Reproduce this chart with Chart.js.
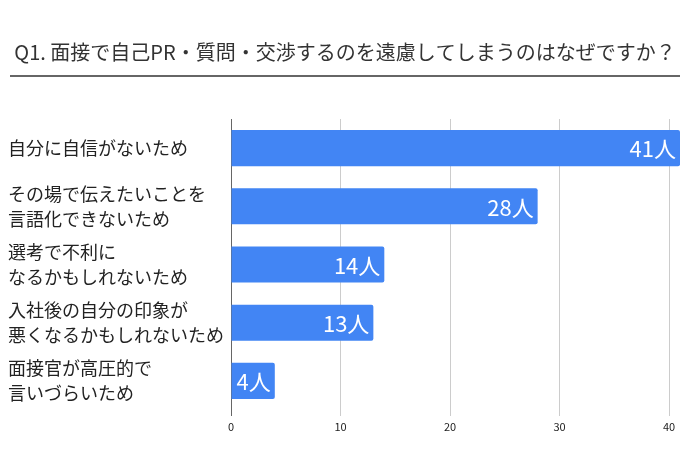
<!DOCTYPE html>
<html>
<head>
<meta charset="utf-8">
<script src="https://cdn.jsdelivr.net/npm/chart.js@4"></script>
<style>
  body { margin: 0; background: #fff; }
  #wrap { width: 690px; height: 460px; position: relative; }
</style>
</head>
<body>
<div id="wrap"><canvas id="grafico" width="690" height="460"></canvas></div>
<script>
const ctx = document.getElementById("grafico");

const TITLE = "Q1. 面接で自己PR・質問・交渉するのを遠慮してしまうのはなぜですか？";
const categorias = [
  ["自分に自信がないため"],
  ["その場で伝えたいことを", "言語化できないため"],
  ["選考で不利に", "なるかもしれないため"],
  ["入社後の自分の印象が", "悪くなるかもしれないため"],
  ["面接官が高圧的で", "言いづらいため"]
];
const valores = [41, 28, 14, 13, 4];
const unidade = "人";
const tickValues = [0, 10, 20, 30, 40];

const FONT = "'Noto Sans CJK JP', 'Noto Sans', sans-serif";

// titulo + linha embaixo
const titlePlugin = {
  id: "titlePlugin",
  beforeDraw(chart) {
    const c = chart.ctx;
    c.save();
    c.fillStyle = "#333";
    c.font = "20px " + FONT;
    c.textAlign = "center";
    c.textBaseline = "middle";
    c.fillText(TITLE, 345, 52);
    c.strokeStyle = "#333";
    c.lineWidth = 1.5;
    c.beginPath();
    c.moveTo(10, 76);
    c.lineTo(680, 76);
    c.stroke();
    c.restore();
  }
};

// rotulo dentro da barra, na ponta
const labelPlugin = {
  id: "labelPlugin",
  afterDatasetsDraw(chart) {
    const c = chart.ctx;
    const meta = chart.getDatasetMeta(0);
    c.save();
    c.fillStyle = "#fff";
    c.font = "22px " + FONT;
    c.textAlign = "right";
    c.textBaseline = "middle";
    meta.data.forEach((bar, i) => {
      c.fillText(valores[i] + unidade, bar.x - 4, bar.y + 1);
    });
    c.restore();
  }
};

new Chart(ctx, {
  type: "bar",
  data: {
    labels: categorias,
    datasets: [{
      data: valores,
      backgroundColor: "#4285F4",
      borderRadius: 2,
      borderSkipped: "start",
      barPercentage: 0.62,
      categoryPercentage: 1
    }]
  },
  options: {
    indexAxis: "y",
    responsive: false,
    animation: false,
    layout: { padding: { top: 119, left: 8, right: 10, bottom: 0 } },
    plugins: {
      legend: { display: false },
      tooltip: { enabled: false }
    },
    scales: {
      x: {
        min: 0,
        max: 41,
        afterBuildTicks(scale) {
          scale.ticks = tickValues.map(v => ({ value: v }));
        },
        grid: {
          color: ctx => ctx.tick && ctx.tick.value === 0 ? "#666" : "#ccc",
          tickLength: 6,
          drawTicks: true
        },
        border: { display: false },
        ticks: {
          color: "#222",
          font: { size: 11, family: FONT },
          padding: 4,
          maxRotation: 0
        },
        afterFit(scale) { scale.height = 50; }
      },
      y: {
        grid: { display: false },
        border: { color: "#666", width: 1 },
        ticks: {
          color: "#222",
          crossAlign: "far",
          font: { size: 18, family: FONT, lineHeight: 1.4 },
          padding: 8
        },
        afterFit(scale) { scale.width = 223; }
      }
    }
  },
  plugins: [titlePlugin, labelPlugin]
});
</script>
</body>
</html>
